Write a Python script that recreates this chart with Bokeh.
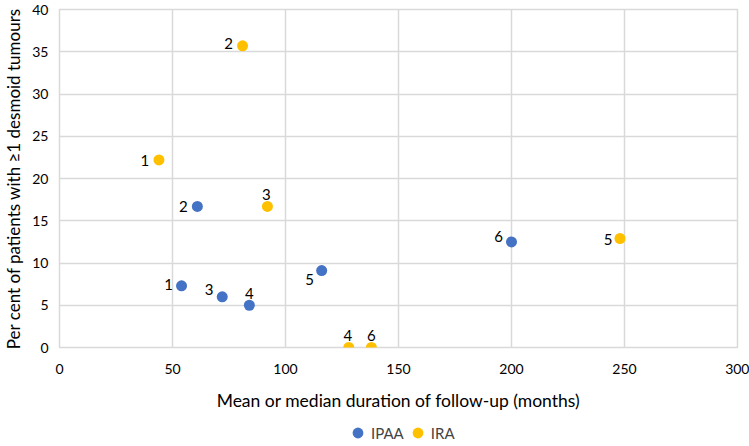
from bokeh.plotting import figure
from bokeh.layouts import column
from bokeh.models import ColumnDataSource, LabelSet, Legend, LegendItem, Range1d, FixedTicker
from bokeh.core.properties import value
from bokeh.embed import file_html
from bokeh.resources import INLINE

# data
ipaa_x = [54, 61, 72, 84, 116, 200]
ipaa_y = [7.3, 16.7, 6.0, 5.0, 9.1, 12.5]
ipaa_lab = ["1", "2", "3", "4", "5", "6"]
ira_x = [44, 81, 92, 128, 248, 138]
ira_y = [22.2, 35.7, 16.7, 0.0, 12.9, 0.0]
ira_lab = ["1", "2", "3", "4", "5", "6"]
x_ticks = [0, 50, 100, 150, 200, 250, 300]
y_ticks = [0, 5, 10, 15, 20, 25, 30, 35, 40]
series_names = ["IPAA", "IRA"]

# label placement (screen px)
ipaa_dx = [-13, -14, -13, 0, -12, -13]
ipaa_dy = [1, 0, 7, 12, -9, 5]
ira_dx = [-14, -14, -1, -1, -12, 0]
ira_dy = [-1, 2, 12, 12, -1, 12]

FONT = "Lato"
GRID = "#D9D9D9"
BLUE = "#4472C4"
GOLD = "#FFC000"

p = figure(width=749, height=418, output_backend="svg", toolbar_location=None,
           x_range=Range1d(0, 300), y_range=Range1d(0, 40),
           min_border_left=59, min_border_right=12, min_border_top=9, min_border_bottom=71)
p.outline_line_color = GRID
p.outline_line_width = 1.5

src_a = ColumnDataSource(dict(x=ipaa_x, y=ipaa_y, t=ipaa_lab, dx=ipaa_dx, dy=ipaa_dy))
src_b = ColumnDataSource(dict(x=ira_x, y=ira_y, t=ira_lab, dx=ira_dx, dy=ira_dy))

p.scatter("x", "y", source=src_a, size=11, color=BLUE, line_color=None)
p.scatter("x", "y", source=src_b, size=11, color=GOLD, line_color=None)

for s in (src_a, src_b):
    p.add_layout(LabelSet(x="x", y="y", text="t", source=s, x_offset="dx", y_offset="dy",
                          text_align="center", text_baseline="middle",
                          text_font=value(FONT), text_font_size="15px", text_color="#000000"))

for ax in (p.xaxis[0], p.yaxis[0]):
    ax.axis_line_color = None
    ax.major_tick_line_color = None
    ax.minor_tick_line_color = None
    ax.major_tick_out = 0
    ax.major_tick_in = 0
    ax.major_label_text_font = FONT
    ax.major_label_text_font_size = "14px"
    ax.major_label_text_color = "#000000"
    ax.axis_label_text_font = FONT
    ax.axis_label_text_font_style = "normal"
    ax.axis_label_text_color = "#000000"

p.xaxis.ticker = FixedTicker(ticks=x_ticks)
p.yaxis.ticker = FixedTicker(ticks=y_ticks)
p.xaxis.axis_label = "Mean or median duration of follow-up (months)"
p.yaxis.axis_label = "Per cent of patients with \u22651 desmoid tumours"
p.xaxis.axis_label_text_font_size = "17.5px"
p.yaxis.axis_label_text_font_size = "17px"
p.xaxis.major_label_standoff = 16
p.yaxis.major_label_standoff = 11
p.xaxis.axis_label_standoff = 13
p.yaxis.axis_label_standoff = 5

p.xgrid.grid_line_color = GRID
p.ygrid.grid_line_color = GRID
p.xgrid.grid_line_width = 1.5
p.ygrid.grid_line_width = 1.5

# legend strip below the chart (its frame is aligned with the chart's frame)
lf = figure(width=749, height=28, output_backend="svg", toolbar_location=None,
            x_range=Range1d(0, 1), y_range=Range1d(0, 1),
            x_axis_location=None, y_axis_location=None, min_border=0)
lf.outline_line_color = None
lf.xgrid.visible = False
lf.ygrid.visible = False
la = lf.scatter(x=[-1], y=[-1], size=11, color=BLUE, line_color=None)
lb = lf.scatter(x=[-1], y=[-1], size=11, color=GOLD, line_color=None)
legend = Legend(items=[LegendItem(label=series_names[0], renderers=[la]),
                       LegendItem(label=series_names[1], renderers=[lb])],
                orientation="horizontal", location=(285, 0),
                label_text_font=FONT, label_text_font_size="15px",
                border_line_color=None, background_fill_alpha=0,
                glyph_width=27, glyph_height=27, label_height=18,
                label_standoff=0, spacing=0, padding=0, margin=0)
lf.add_layout(legend, "center")

open("out.html", "w").write(file_html(column(p, lf), INLINE))
